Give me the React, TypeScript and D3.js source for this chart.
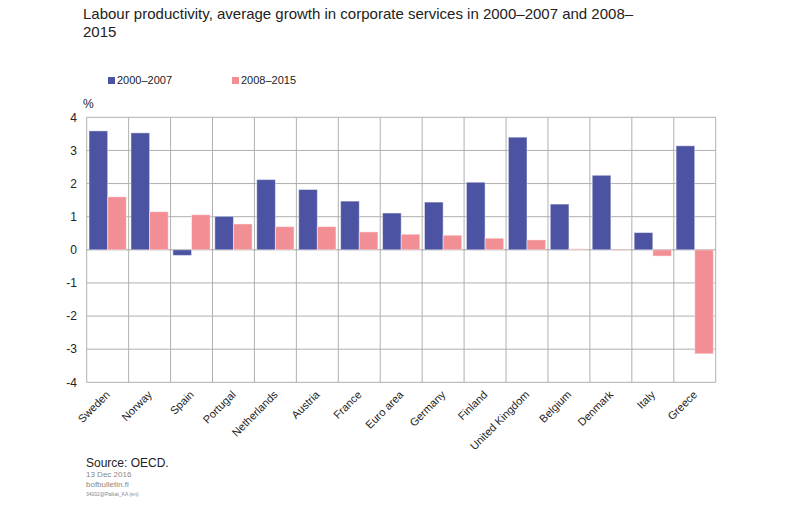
import React from 'react';
import * as d3 from 'd3';

const categories = [
  'Sweden', 'Norway', 'Spain', 'Portugal', 'Netherlands', 'Austria', 'France',
  'Euro area', 'Germany', 'Finland', 'United Kingdom', 'Belgium', 'Denmark', 'Italy', 'Greece',
];
const series2000 = [3.59, 3.53, -0.17, 1.01, 2.12, 1.82, 1.47, 1.11, 1.44, 2.04, 3.40, 1.38, 2.25, 0.52, 3.14];
const series2008 = [1.60, 1.15, 1.06, 0.78, 0.70, 0.70, 0.54, 0.47, 0.44, 0.35, 0.30, 0.03, -0.02, -0.19, -3.14];
const seriesNames = ['2000\u20132007', '2008\u20132015'];
const yTicks = [4, 3, 2, 1, 0, -1, -2, -3, -4];

const colors = ['#4c53a2', '#f28f95'];

export default function App() {
  const width = 800;
  const height = 522;
  const margin = { top: 117.3, right: 84.3, bottom: 139.7, left: 86.7 };

  const x = d3.scaleBand<string>()
    .domain(categories)
    .range([margin.left, width - margin.right]);
  const x1 = d3.scaleBand<number>()
    .domain([0, 1])
    .range([0, x.bandwidth()])
    .paddingOuter(0.125);
  const y = d3.scaleLinear()
    .domain([-4, 4])
    .range([height - margin.bottom, margin.top]);

  const data = [series2000, series2008];
  const font = 'Arial, "Liberation Sans", sans-serif';

  return (
    <svg width={width} height={height} style={{ position: 'absolute', left: 0, top: 0 }} fontFamily={font}>
      <text x={83} y={19} fontSize={15} fill="#222">
        Labour productivity, average growth in corporate services in 2000–2007 and 2008–
      </text>
      <text x={83} y={37} fontSize={15} fill="#222">2015</text>

      {/* Legend */}
      {seriesNames.map((name, i) => (
        <g key={name} transform={`translate(${108 + i * 124},77)`}>
          <rect width={7} height={7} fill={colors[i]} />
          <text x={9} y={7} fontSize={11} fill="#222">{name}</text>
        </g>
      ))}

      <text x={83} y={108} fontSize={12} fill="#222">%</text>

      {/* Horizontal grid */}
      {yTicks.map(t => (
        <g key={t}>
          <line x1={margin.left} x2={width - margin.right} y1={y(t)} y2={y(t)}
            stroke={t === 0 ? '#999' : '#b0b0b0'} strokeWidth={1} />
          <text x={77} y={y(t)} dy="0.35em" textAnchor="end" fontSize={12} fill="#222">{t}</text>
        </g>
      ))}
      {/* Vertical grid */}
      {categories.map(c => (
        <line key={c} x1={x(c)!} x2={x(c)!} y1={margin.top} y2={height - margin.bottom}
          stroke="#b0b0b0" strokeWidth={1} />
      ))}
      <line x1={width - margin.right} x2={width - margin.right} y1={margin.top} y2={height - margin.bottom}
        stroke="#b0b0b0" strokeWidth={1} />

      {/* Bars */}
      {data.map((vals, si) => (
        <g key={si} fill={colors[si]} stroke="#ffffff" strokeOpacity={0.45} strokeWidth={1}>
          {vals.map((v, i) => (
            <rect key={categories[i]}
              x={x(categories[i])! + x1(si)!}
              width={x1.bandwidth()}
              y={y(Math.max(0, v))}
              height={Math.abs(y(v) - y(0))} />
          ))}
        </g>
      ))}

      {/* Category labels */}
      {categories.map(c => (
        <text key={c} fontSize={11} fill="#222" textAnchor="end"
          transform={`translate(${x(c)! + x.bandwidth() / 2 + 3},${height - margin.bottom + 13}) rotate(-45)`}>
          {c}
        </text>
      ))}

      <text x={86} y={467} fontSize={12} fill="#222">Source: OECD.</text>
      <text x={86} y={477} fontSize={8} fill="#888">13 Dec 2016</text>
      <text x={86} y={487} fontSize={8} fill="#888">bofbulletin.fi</text>
      <text x={86} y={496} fontSize={5} fill="#888">34002@Palkat_KA   (en)</text>
    </svg>
  );
}
